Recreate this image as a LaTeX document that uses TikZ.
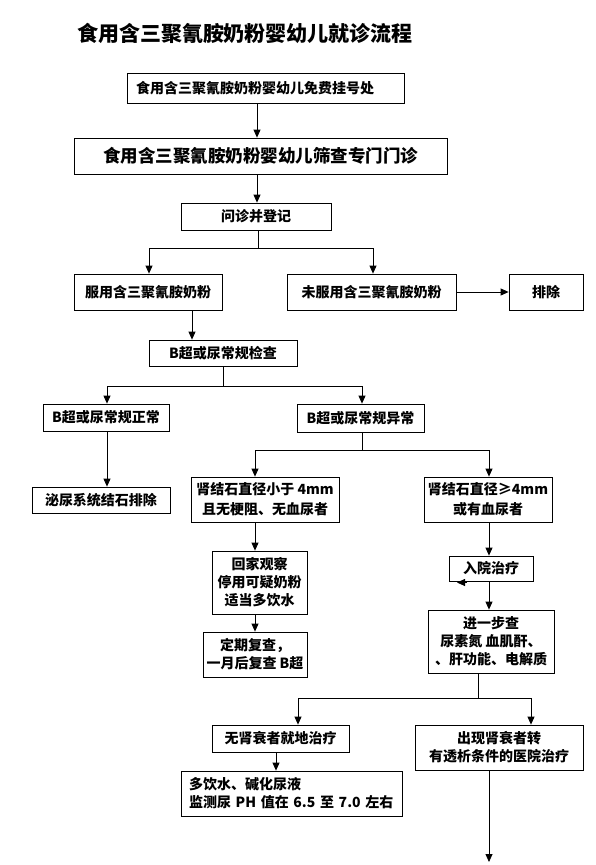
\documentclass[tikz,border=0pt]{standalone}
\usepackage{fontspec}
\setmainfont{Noto Sans CJK SC}
\usetikzlibrary{arrows.meta,calc}
\begin{document}
\begin{tikzpicture}[x=1pt,y=-1pt,
  box/.style={draw, line width=0.8pt, inner sep=0pt, align=center,
    font=\bfseries\fontsize{14}{18}\selectfont},
  sz/.style 2 args={minimum width=#1pt, minimum height=#2pt},
  arr/.style={-{Triangle[width=7pt,length=8pt]}, line width=0.8pt},
  ln/.style={line width=0.8pt}]
\fill[white] (0,0) rectangle (595,865);
\useasboundingbox (0,0) rectangle (595,865);

\node[inner sep=0pt, font=\bfseries\fontsize{21}{21}\selectfont] (title) at (245,33.5) {食用含三聚氰胺奶粉婴幼儿就诊流程};

\node[box, sz={277}{30}, text width=259pt, inner xsep=9pt, align=left] (b1) at (265.5,88) {食用含三聚氰胺奶粉婴幼儿免费挂号处};
\node[box, sz={373}{36}, font=\bfseries\fontsize{17.5}{20}\selectfont] (b2) at (260.5,156) {食用含三聚氰胺奶粉婴幼儿筛查专门门诊};
\node[box, sz={150}{27}] (b3) at (256,216.5) {问诊并登记};
\node[box, sz={148}{36}] (b4) at (148,292) {服用含三聚氰胺奶粉};
\node[box, sz={169}{36}] (b5) at (371.5,292) {未服用含三聚氰胺奶粉};
\node[box, sz={74}{36}] (b6) at (546,292) {排除};
\node[box, sz={148}{26}] (b7) at (223,353) {B超或尿常规检查};
\node[box, sz={126}{27}] (b8) at (106,417.5) {B超或尿常规正常};
\node[box, sz={127}{28}] (b9) at (360.5,418) {B超或尿常规异常};
\node[box, sz={138}{26}] (b10) at (101,500) {泌尿系统结石排除};
\node[box, sz={148}{45}, font=\bfseries\fontsize{14}{20}\selectfont] (b11) at (265,499.5) {肾结石直径小于 4mm\\且无梗阻、无血尿者};
\node[box, sz={128}{45}, font=\bfseries\fontsize{14}{20}\selectfont] (b12) at (488,499.5) {肾结石直径≥4mm\\或有血尿者};
\node[box, sz={95}{63}] (b13) at (259.5,582.5) {回家观察\\停用可疑奶粉\\适当多饮水};
\node[box, sz={104}{45}] (b14) at (255,654.5) {定期复查，\\一月后复查 B超};
\node[box, sz={84}{25}] (b15) at (491,568.5) {入院治疗};
\node[box, sz={126}{63}] (b16) at (491,641.5) {进一步查\\尿素氮 血肌酐、\\、肝功能、电解质};
\node[box, sz={137}{27}] (b17) at (280.5,738.5) {无肾衰者就地治疗};
\node[box, sz={168}{45}] (b18) at (499,747.5) {出现肾衰者转\\有透析条件的医院治疗};
\node[box, sz={221}{45}, text width=205pt, inner xsep=8pt, align=left] (b19) at (291.5,793.5) {多饮水、碱化尿液\\监测尿 PH 值在 6.5 至 7.0 左右};

\coordinate (j1) at (258,248);
\coordinate (j2) at (223,386);
\coordinate (j3) at (362,450);
\coordinate (j4) at (478,698);
\coordinate (t1) at (467,582.5);
\coordinate (t2) at (457,582.5);
\coordinate (e1) at (489,862);

\draw[arr] (257,0 |- b1.south) -- (257,0 |- b2.north);
\draw[arr] (257,0 |- b2.south) -- (257,0 |- b3.north);
\draw[ln] (j1 |- b3.south) -- (j1);
\draw[arr] (j1) -| (149,0 |- b4.north);
\draw[arr] (j1) -| (373,0 |- b5.north);
\draw[arr] (b5.east) -- (b6.west);
\draw[arr] (192,0 |- b4.south) -- (192,0 |- b7.north);
\draw[ln] (j2 |- b7.south) -- (j2);
\draw[arr] (j2) -| (107,0 |- b8.north);
\draw[arr] (j2) -| (362,0 |- b9.north);
\draw[arr] (107,0 |- b8.south) -- (107,0 |- b10.north);
\draw[ln] (j3 |- b9.south) -- (j3);
\draw[arr] (j3) -| (255,0 |- b11.north);
\draw[arr] (j3) -| (489,0 |- b12.north);
\draw[arr] (255,0 |- b11.south) -- (255,0 |- b13.north);
\draw[arr] (255,0 |- b13.south) -- (255,0 |- b14.north);
\draw[arr] (489,0 |- b12.south) -- (489,0 |- b15.north);
\draw[arr] (489,0 |- b15.south) -- (489,0 |- b16.north);
\draw[arr] (t1) -- (t2);
\draw[ln] (j4 |- b16.south) -- (j4);
\draw[arr] (j4) -| (298,0 |- b17.north);
\draw[arr] (j4) -| (531,0 |- b18.north);
\draw[arr] (276,0 |- b17.south) -- (276,0 |- b19.north);
\draw[arr] (489,0 |- b18.south) -- (e1);
\end{tikzpicture}
\end{document}
